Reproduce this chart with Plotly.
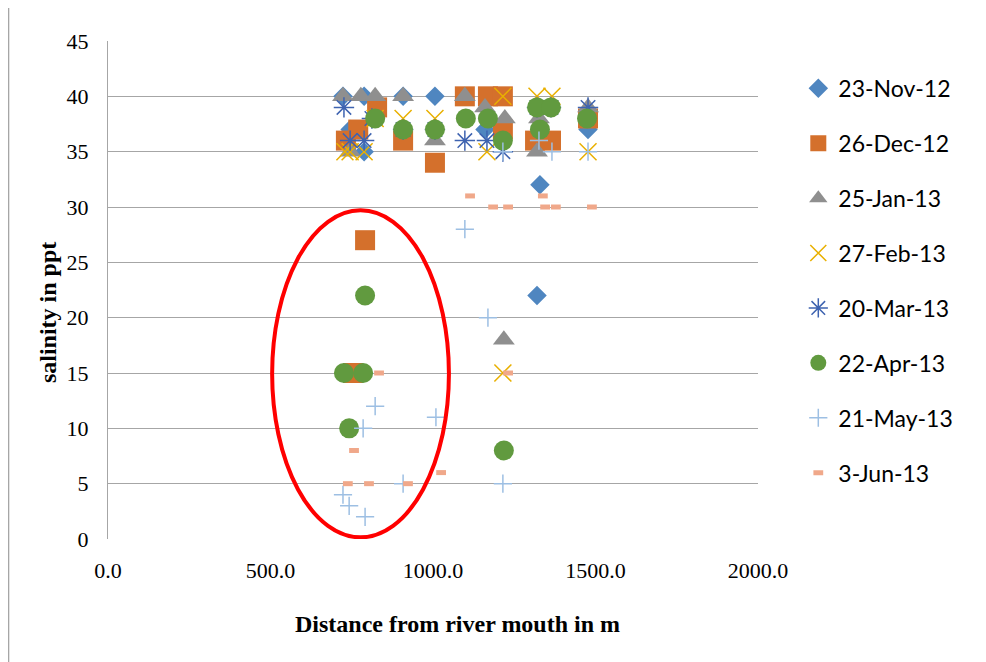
import plotly.graph_objects as go

# ---- data (distance from river mouth in m, salinity in ppt) ----
series_names = ["23-Nov-12", "26-Dec-12", "25-Jan-13", "27-Feb-13",
                "20-Mar-13", "22-Apr-13", "21-May-13", "3-Jun-13"]

nov_x = [723, 788, 908, 1006, 745, 788, 1160, 1477, 1329, 1320]
nov_y = [40, 40, 40, 40, 37, 35, 37, 37, 32, 22]

dec_x = [1098, 1169, 1215, 732, 828, 770, 908, 1006, 1215, 1314, 1363, 1477, 791, 754]
dec_y = [40, 40, 40, 36, 39, 37, 36, 34, 37, 36, 36, 38, 27, 15]

jan_x = [723, 778, 822, 908, 1098, 745, 1006, 1160, 1221, 1320, 1326, 1477, 1218]
jan_y = [40, 40, 40, 40, 40, 35, 36, 39, 38, 35, 38, 39, 18]

feb_x = [729, 745, 788, 822, 908, 1006, 1215, 1166, 1320, 1366, 1477, 1215]
feb_y = [35, 35, 35, 38, 38, 38, 40, 35, 40, 40, 35, 15]

mar_x = [726, 745, 788, 812, 908, 1006, 1098, 1166, 1215, 1320, 1363, 1477]
mar_y = [39, 36, 36, 38, 37, 37, 36, 36, 35, 39, 39, 39]

apr_x = [822, 908, 1006, 1101, 1169, 1215, 1320, 1363, 1329, 1474, 791, 726, 785, 742, 1218]
apr_y = [38, 37, 37, 38, 38, 36, 39, 39, 37, 38, 22, 15, 15, 10, 8]

may_x = [1098, 1169, 1215, 822, 785, 1009, 908, 723, 742, 791, 1326, 1366, 1477, 1215]
may_y = [28, 20, 5, 12, 10, 11, 5, 4, 3, 2, 36, 35, 35, 35]

jun_x = [1114, 1185, 1231, 1338, 1345, 1378, 1489, 834, 1231, 757, 738, 803, 923, 1025]
jun_y = [31, 30, 30, 31, 30, 30, 30, 15, 15, 8, 5, 5, 5, 6]

x_ticks = [0, 500, 1000, 1500, 2000]
y_ticks = [0, 5, 10, 15, 20, 25, 30, 35, 40, 45]

# ---- styles ----
styles = [
    dict(symbol="diamond", size=15, color="#4F86C0", line=dict(width=0)),
    dict(symbol="square", size=20, color="#D4702C", line=dict(width=0)),
    dict(symbol="triangle-up", size=19, color="#8F8F8F", line=dict(width=0)),
    dict(symbol="x-thin-open", size=17, color="#E9B000", line=dict(width=1.5, color="#E9B000")),
    dict(symbol="asterisk-open", size=17, color="#3E63B0", line=dict(width=1.5, color="#3E63B0")),
    dict(symbol="circle", size=20, color="#619A3F", line=dict(width=0)),
    dict(symbol="cross-thin-open", size=13, color="#9DBFE3", line=dict(width=1.5, color="#9DBFE3")),
    dict(symbol="line-ew-open", size=7, color="#F0A88A", line=dict(width=5, color="#F0A88A")),
]

xs = [nov_x, dec_x, jan_x, feb_x, mar_x, apr_x, may_x, jun_x]
ys = [nov_y, dec_y, jan_y, feb_y, mar_y, apr_y, may_y, jun_y]

fig = go.Figure()
for name, x, y, st in zip(series_names, xs, ys, styles):
    fig.add_trace(go.Scatter(x=x, y=y, mode="markers", name=name,
                             legendgroup=name, marker=st))

serif = "Liberation Serif"

fig.update_layout(
    width=978, height=654,
    margin=dict(l=100, r=228, t=33, b=123),
    paper_bgcolor="white", plot_bgcolor="white",
    showlegend=True,
    legend=dict(x=1.062, y=0.948, xanchor="left", yanchor="top",
                font=dict(family="Lato", size=23, color="black"),
                tracegroupgap=22, itemsizing="trace",
                bgcolor="rgba(0,0,0,0)"),
    xaxis=dict(range=[0, 2000], tickvals=x_ticks, tickformat=".1f",
               showgrid=False, zeroline=False, showline=False,
               ticks="outside", ticklen=12, tickcolor="rgba(0,0,0,0)",
               tickfont=dict(family=serif, size=22, color="black")),
    yaxis=dict(range=[0, 45], tickvals=y_ticks,
               showgrid=True, gridcolor="#A6A6A6", gridwidth=1.3,
               zeroline=False, showline=True, linecolor="#A6A6A6", linewidth=1.3,
               ticks="outside", ticklen=14, tickcolor="rgba(0,0,0,0)",
               tickfont=dict(family=serif, size=22, color="black")),
    shapes=[
        dict(type="circle", xref="x", yref="y", x0=505, x1=1049, y0=0.15, y1=29.7,
             line=dict(color="#FF0000", width=4), layer="above"),
        dict(type="rect", xref="paper", yref="paper",
             x0=-0.153, x1=1.4, y0=-0.3, y1=1.068,
             line=dict(color="#A6A6A6", width=1.5)),
    ],
    annotations=[
        dict(text="<b>salinity in ppt</b>", xref="paper", yref="paper",
             x=-0.092, y=0.454, xanchor="center", yanchor="middle",
             textangle=-90, showarrow=False,
             font=dict(family=serif, size=24, color="black")),
        dict(text="<b>Distance from river mouth in m</b>", xref="paper", yref="paper",
             x=0.537, y=-0.171, xanchor="center", yanchor="middle", showarrow=False,
             font=dict(family=serif, size=24, color="black")),
    ],
)

fig.write_html("out.html")
